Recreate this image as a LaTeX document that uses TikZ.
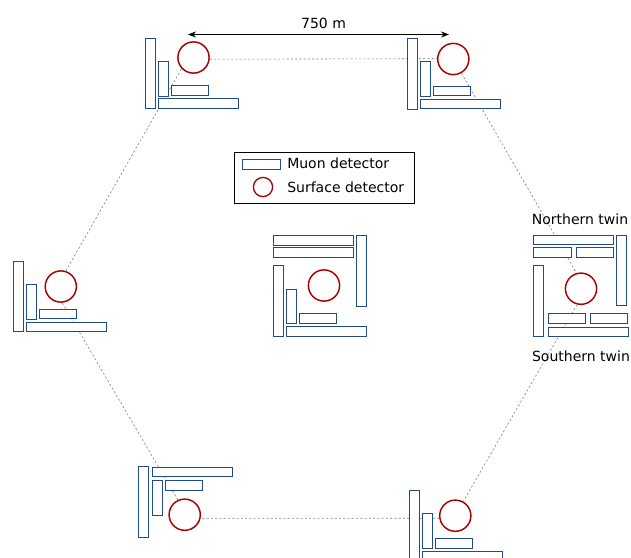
\documentclass[tikz,border=0pt]{standalone}
\usepackage{fontspec}
\setmainfont{DejaVu Sans}
\usetikzlibrary{arrows.meta}
\definecolor{muonBlue}{HTML}{1F4A8C}
\definecolor{surfaceRed}{HTML}{AA0000}
\tikzset{
    sdStyle/.style={circle, draw=surfaceRed, line width=1.1pt, minimum size=23.4pt, inner sep=0pt},
    mdStyle/.style={rectangle, draw=muonBlue, fill=white, line width=0.6pt, inner sep=0pt, anchor=north west, xshift=-0.4pt, yshift=0.3pt},
    longBar/.style={mdStyle, minimum width=60pt, minimum height=7.4pt},
    shortBar/.style={mdStyle, minimum width=28pt, minimum height=7.4pt},
    tallBar/.style={mdStyle, minimum width=7.4pt, minimum height=53pt},
    midBar/.style={mdStyle, minimum width=7.4pt, minimum height=26pt},
    baseLine/.style={draw=black!50, line width=0.45pt, dash pattern=on 1.6pt off 1.6pt},
    labelStyle/.style={inner sep=0pt, font=\fontsize{10.5}{12}\selectfont}
}
\begin{document}
\begin{tikzpicture}[x=0.75pt, y=-0.75pt]
    \useasboundingbox (0, 0) rectangle (631, 557);

    % surface detectors
    \node[sdStyle](sdA) at (193.5, 57.5) {};
    \node[sdStyle](sdB) at (453.3, 59) {};
    \node[sdStyle](sdC) at (581, 288.7) {};
    \node[sdStyle](sdD) at (455.3, 515.7) {};
    \node[sdStyle](sdE) at (184.7, 514.7) {};
    \node[sdStyle](sdF) at (60.8, 286.5) {};
    \node[sdStyle](sdG) at (324, 285.5) {};

    % hexagon sides
    \draw[baseLine] (sdA.-6.5) -- (sdB.179);
    \draw[baseLine] (sdB.-60.6) -- (sdC.106);
    \draw[baseLine] (sdC.-104) -- (sdD.61);
    \draw[baseLine] (sdD.189.4) -- (sdE.-13);
    \draw[baseLine] (sdE.115) -- (sdF.-85);
    \draw[baseLine] (sdF.72) -- (sdA.223);

    % station A
    \node[tallBar](a1) at (145.3, 38) {};
    \node[midBar](a2) at (158.3, 61.3) {};
    \node[shortBar](a3) at (171.3, 85.8) {};
    \node[longBar](a4) at (158.3, 98.7) {};

    % station B
    \node[tallBar](b1) at (407.8, 38.3) {};
    \node[midBar](b2) at (420.7, 61.3) {};
    \node[shortBar](b3) at (433.5, 86) {};
    \node[longBar](b4) at (420.7, 99) {};

    % station C, twins
    \node[longBar](c1) at (534, 235) {};
    \node[shortBar](c2) at (534, 247.7) {};
    \node[shortBar](c3) at (576.3, 247.7) {};
    \node[tallBar](c4) at (617, 235) {};
    \node[tallBar](c5) at (534, 265.8) {};
    \node[shortBar](c6) at (548.3, 313.2) {};
    \node[shortBar](c7) at (590.3, 313.2) {};
    \node[longBar](c8) at (548.3, 327) {};

    % station D
    \node[tallBar](d1) at (409.7, 490.7) {};
    \node[midBar](d2) at (422.3, 513.7) {};
    \node[shortBar](d3) at (435.3, 538.7) {};
    \node[longBar](d4) at (422.3, 551.3) {};

    % station E
    \node[tallBar](e1) at (138.3, 466.7) {};
    \node[longBar](e2) at (152.3, 467) {};
    \node[midBar](e3) at (152.3, 480.3) {};
    \node[shortBar](e4) at (165.3, 480.5) {};

    % station F
    \node[tallBar](f1) at (13.8, 261) {};
    \node[midBar](f2) at (26.3, 284.3) {};
    \node[shortBar](f3) at (39.5, 309) {};
    \node[longBar](f4) at (26.3, 322) {};

    % station G
    \node[longBar](g1) at (273.7, 235.3) {};
    \node[longBar](g2) at (273.7, 247.3) {};
    \node[tallBar](g3) at (356.5, 235.3) {};
    \node[tallBar](g4) at (273.8, 265.8) {};
    \node[midBar](g5) at (286.7, 289) {};
    \node[shortBar](g6) at (299.5, 313.8) {};
    \node[longBar](g7) at (286.7, 326.8) {};

    % scale
    \coordinate (scaleL) at (188, 34.5);
    \coordinate (scaleR) at (449, 34.5);
    \draw[{Stealth[length=6pt, width=4.5pt]}-{Stealth[length=6pt, width=4.5pt]}, line width=0.6pt] (scaleL) -- (scaleR);
    \node[labelStyle](scaleText) at (323.5, 23) {750 m};

    % twin labels
    \node[labelStyle](northText) at (580, 219.5) {Northern twin};
    \node[labelStyle](southText) at (581, 356.5) {Southern twin};

    % legend
    \node[rectangle, draw=black, line width=0.6pt, inner sep=0pt, anchor=north west, minimum width=134.5pt, minimum height=38.5pt](legendBox) at (234.3, 152) {};
    \node[shortBar](legendMd) at (243, 159.5) {};
    \node[sdStyle, minimum size=14.4pt, line width=1pt](legendSd) at (263, 187) {};
    \node[labelStyle, anchor=west](legendMdText) at (287, 163.5) {Muon detector};
    \node[labelStyle, anchor=west](legendSdText) at (287, 187) {Surface detector};
\end{tikzpicture}
\end{document}
